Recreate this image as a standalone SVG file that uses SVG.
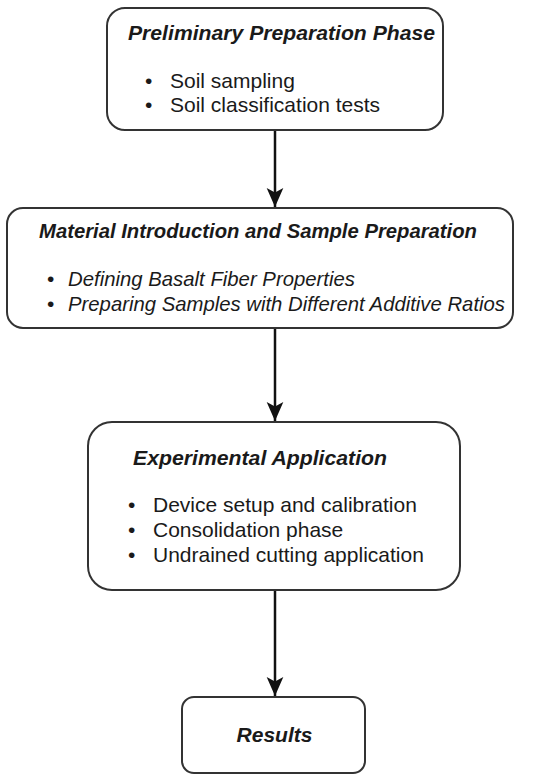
<svg xmlns="http://www.w3.org/2000/svg" width="550" height="781" viewBox="0 0 550 781">
<style>
.box{fill:#fff;stroke:#333;stroke-width:2}
.t{font-family:"Liberation Sans",Arial,sans-serif;font-size:21px;fill:#1a1a1a}
.h{font-weight:bold;font-style:italic}
.i{font-style:italic}
.c{stroke:#111;stroke-width:2.5;fill:none}
</style>
<defs>
<marker id="ah" markerUnits="userSpaceOnUse" markerWidth="20" markerHeight="20" viewBox="0 -8 18 16" refX="17" refY="0" orient="auto">
<path d="M0,-7.5 L17,0 L0,7.5 L4,0 Z" fill="#111"/>
</marker>
</defs>
<rect width="550" height="781" fill="#fff"/>
<g id="connectors">
<line class="c" x1="275" y1="130" x2="275" y2="207" marker-end="url(#ah)"/>
<line class="c" x1="275" y1="328" x2="275" y2="421" marker-end="url(#ah)"/>
<line class="c" x1="275" y1="590" x2="275" y2="696" marker-end="url(#ah)"/>
</g>
<g id="node1">
<rect class="box" x="107" y="8" width="336" height="122" rx="18"/>
<text class="t h" x="128" y="40" textLength="307" lengthAdjust="spacingAndGlyphs">Preliminary Preparation Phase</text>
<text class="t" x="145" y="88">•</text>
<text class="t" x="170" y="88">Soil sampling</text>
<text class="t" x="145" y="112">•</text>
<text class="t" x="170" y="112">Soil classification tests</text>
</g>
<g id="node2">
<rect class="box" x="7" y="208" width="506" height="120" rx="16"/>
<text class="t h" x="39" y="238" textLength="438" lengthAdjust="spacingAndGlyphs">Material Introduction and Sample Preparation</text>
<text class="t" x="47" y="286">•</text>
<text class="t i" x="68" y="286" textLength="287" lengthAdjust="spacingAndGlyphs">Defining Basalt Fiber Properties</text>
<text class="t" x="47" y="311">•</text>
<text class="t i" x="68" y="311" textLength="437" lengthAdjust="spacingAndGlyphs">Preparing Samples with Different Additive Ratios</text>
</g>
<g id="node3">
<rect class="box" x="88" y="422" width="372" height="168" rx="24"/>
<text class="t h" x="133" y="465" textLength="254" lengthAdjust="spacingAndGlyphs">Experimental Application</text>
<text class="t" x="128" y="512">•</text>
<text class="t" x="153" y="512">Device setup and calibration</text>
<text class="t" x="128" y="537">•</text>
<text class="t" x="153" y="537">Consolidation phase</text>
<text class="t" x="128" y="562">•</text>
<text class="t" x="153" y="562">Undrained cutting application</text>
</g>
<g id="node4">
<rect class="box" x="182" y="697" width="183" height="76" rx="12"/>
<text class="t h" x="274.5" y="742" text-anchor="middle">Results</text>
</g>
</svg>
